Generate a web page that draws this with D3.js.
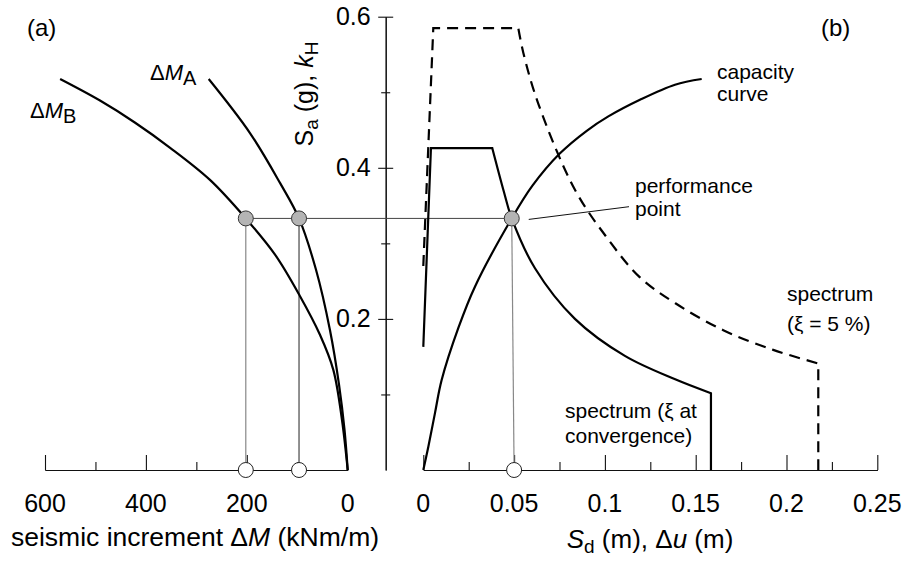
<!DOCTYPE html>
<html>
<head>
<meta charset="utf-8">
<script src="https://cdn.jsdelivr.net/npm/d3@7"></script>
<style>
  body { margin: 0; background: #fff; }
  svg { display: block; font-family: "Liberation Sans", Arial, sans-serif; }
</style>
</head>
<body>
<div id="chart"></div>
<script>
// values

// tick values
const sdTicks = [0, 0.05, 0.1, 0.15, 0.2, 0.25]
const sdMinorTicks = [0.025, 0.075, 0.125, 0.175, 0.225]
const dmTicks = [600, 400, 200, 0]
const dmMajorTickMarks = [600, 400, 200]
const dmMinorTickMarks = [500, 300, 100]
const saTicks = [0.2, 0.4, 0.6]
const saMinorTicks = [0.1, 0.3, 0.5]

// (b) [Sd (m), Sa (g)]
const capacityCurve = [
  [0, 0], [0.0028, 0.031], [0.0064, 0.075], [0.0101, 0.119], [0.0193, 0.188],
  [0.0285, 0.243], [0.0487, 0.333], [0.06, 0.376], [0.075, 0.4185],
  [0.09, 0.449], [0.1019, 0.468], [0.1193, 0.49], [0.1386, 0.51], [0.1533, 0.5175],
]
const spectrumConvRise = [[0, 0.163], [0.0042, 0.426], [0.038, 0.426]]
const spectrumConvFall = [
  [0.038, 0.426], [0.0443, 0.369], [0.0487, 0.333], [0.0615, 0.267],
  [0.0835, 0.2], [0.111, 0.151], [0.1387, 0.12], [0.1584, 0.1016],
]
const spectrumConvEnd = 0.1584
const spectrum5Rise = [[0, 0.27], [0.0055, 0.585], [0.0523, 0.585]]
const spectrum5Fall = [
  [0.0523, 0.585], [0.0551, 0.552], [0.0633, 0.485], [0.0835, 0.371],
  [0.1019, 0.305], [0.1193, 0.255], [0.1386, 0.221], [0.1652, 0.185],
  [0.1927, 0.159], [0.2175, 0.141],
]
const spectrum5End = 0.2175

// (a) [ΔM (kNm/m), kH]
const dmBCurve = [
  [570, 0.5175], [491, 0.489], [422, 0.46], [352, 0.4265], [273, 0.384],
  [202, 0.333], [144, 0.285], [94.5, 0.23], [55, 0.179], [28.5, 0.1325],
  [11.3, 0.066], [0, 0],
]
const dmACurve = [
  [275.5, 0.5175], [193.7, 0.446], [134.2, 0.38], [96.5, 0.333],
  [62.8, 0.265], [35.1, 0.185], [17.2, 0.113], [6.3, 0.053], [0, 0],
]

const kH = 0.333
const dmAPoint = 96.5
const dmBPoint = 202
const perfPoint = [0.0487, 0.333]
const sdPoint = 0.05

// layout
const width = 905
const height = 565
const baseY = 470
const topY = 16.7

const svg = d3.select("#chart").append("svg")
    .attr("width", width)
    .attr("height", height)

const yScale = d3.scaleLinear().domain([0, 0.6]).range([baseY, topY])
const xRight = d3.scaleLinear().domain([0, 0.25]).range([423.3, 877.3])
const xLeft = d3.scaleLinear().domain([0, 600]).range([347.7, 45])
const yAxisX = 385.7

// axes
const drawXAxis = (scale, major, minor, labels) => {
  const g = svg.append("g").attr("transform", `translate(0,${baseY})`)
  g.append("g")
    .call(d3.axisTop(scale).tickValues(major).tickSizeInner(15).tickSizeOuter(0).tickFormat(""))
  g.append("g")
    .call(d3.axisTop(scale).tickValues(minor).tickSizeInner(8).tickSizeOuter(0).tickFormat(""))
  g.selectAll("path, line").attr("stroke", "#111").attr("stroke-width", 1.1)
  g.selectAll(".lab")
    .data(labels)
    .join("text")
      .attr("class", "lab")
      .attr("x", d => scale(d))
      .attr("y", 42)
      .attr("text-anchor", "middle")
      .style("font-size", "25px")
      .text(d => d)
}
drawXAxis(xRight, sdTicks, sdMinorTicks, sdTicks)
drawXAxis(xLeft, dmMajorTickMarks, dmMinorTickMarks, dmTicks)

const yAxis = svg.append("g")
    .attr("transform", `translate(${yAxisX},0)`)
yAxis.append("g")
  .call(d3.axisLeft(yScale).tickValues(saTicks).tickSizeOuter(0).tickFormat(d3.format(".1f")))
yAxis.append("g")
  .call(d3.axisLeft(yScale).tickValues(saMinorTicks).tickSizeOuter(0).tickFormat(""))
yAxis.selectAll("path").attr("stroke", "#111").attr("stroke-width", 1.1)
yAxis.selectAll("line").attr("stroke", "#111").attr("stroke-width", 1.1)
yAxis.selectAll(".tick line").attr("x1", d => saTicks.includes(d) ? 7.5 : 4.5)
    .attr("x2", d => saTicks.includes(d) ? -7.5 : -4.5)
yAxis.selectAll(".tick text")
    .attr("x", -15)
    .attr("font-family", null)
    .style("font-size", "25px")
    .attr("fill", "#000")

// guide lines
const kY = yScale(kH)
svg.append("line")
    .attr("x1", xLeft(dmBPoint)).attr("x2", xRight(perfPoint[0]))
    .attr("y1", kY).attr("y2", kY)
    .attr("stroke", "#444").attr("stroke-width", 1)
svg.append("line")
    .attr("x1", xLeft(dmBPoint)).attr("x2", xLeft(dmBPoint))
    .attr("y1", kY).attr("y2", baseY)
    .attr("stroke", "#888").attr("stroke-width", 1.2)
svg.append("line")
    .attr("x1", xLeft(dmAPoint)).attr("x2", xLeft(dmAPoint))
    .attr("y1", kY).attr("y2", baseY)
    .attr("stroke", "#222").attr("stroke-width", 1)
svg.append("line")
    .attr("x1", xRight(perfPoint[0])).attr("x2", xRight(sdPoint))
    .attr("y1", yScale(perfPoint[1])).attr("y2", baseY)
    .attr("stroke", "#888").attr("stroke-width", 1.2)
// leader to "performance point"
svg.append("line")
    .attr("x1", xRight(perfPoint[0]) + 17).attr("y1", yScale(perfPoint[1]) + 1)
    .attr("x2", 629).attr("y2", 206.7)
    .attr("stroke", "#111").attr("stroke-width", 1)

// curves
const lineR = d3.line().x(d => xRight(d[0])).y(d => yScale(d[1]))
const smoothR = d3.line().x(d => xRight(d[0])).y(d => yScale(d[1]))
    .curve(d3.curveCatmullRom.alpha(0.5))
const smoothL = d3.line().x(d => xLeft(d[0])).y(d => yScale(d[1]))
    .curve(d3.curveCatmullRom.alpha(0.5))

const spectrumPath = (rise, fall, end) =>
  lineR(rise) + smoothR(fall).replace(/^M/, "L") + `L${xRight(end)},${yScale(0)}`

svg.append("path")
    .attr("d", spectrumPath(spectrum5Rise, spectrum5Fall, spectrum5End))
    .attr("fill", "none")
    .attr("stroke", "#000")
    .attr("stroke-width", 2.2)
    .attr("stroke-dasharray", "11 7")

svg.append("path")
    .attr("d", spectrumPath(spectrumConvRise, spectrumConvFall, spectrumConvEnd))
    .attr("fill", "none")
    .attr("stroke", "#000")
    .attr("stroke-width", 2.2)

svg.append("path")
    .attr("d", smoothR(capacityCurve))
    .attr("fill", "none")
    .attr("stroke", "#000")
    .attr("stroke-width", 2.2)

svg.append("path")
    .attr("d", smoothL(dmBCurve))
    .attr("fill", "none")
    .attr("stroke", "#000")
    .attr("stroke-width", 2.2)

svg.append("path")
    .attr("d", smoothL(dmACurve))
    .attr("fill", "none")
    .attr("stroke", "#000")
    .attr("stroke-width", 2.2)

// points
const filled = [[xLeft(dmBPoint), kY], [xLeft(dmAPoint), kY], [xRight(perfPoint[0]), yScale(perfPoint[1])]]
const open = [[xLeft(dmBPoint), baseY], [xLeft(dmAPoint), baseY], [xRight(sdPoint), baseY]]

svg.selectAll(".filled")
  .data(filled)
  .join("circle")
    .attr("cx", d => d[0]).attr("cy", d => d[1]).attr("r", 7.5)
    .attr("fill", "#b4b4b4").attr("stroke", "#333").attr("stroke-width", 1)
svg.selectAll(".open")
  .data(open)
  .join("circle")
    .attr("cx", d => d[0]).attr("cy", d => d[1]).attr("r", 7.5)
    .attr("fill", "#fff").attr("stroke", "#222").attr("stroke-width", 1)

// texts
const label = (x, y, size) => svg.append("text")
    .attr("x", x).attr("y", y)
    .style("font-size", size + "px")
    .attr("fill", "#000")

label(27, 36, 24).text("(a)")
label(821, 36, 24).text("(b)")

const dmA = label(150, 80, 22)
dmA.append("tspan").text("Δ")
dmA.append("tspan").attr("font-style", "italic").text("M")
dmA.append("tspan").attr("dy", 5).style("font-size", "20px").text("A")

const dmB = label(30, 118, 22)
dmB.append("tspan").text("Δ")
dmB.append("tspan").attr("font-style", "italic").text("M")
dmB.append("tspan").attr("dy", 5).style("font-size", "20px").text("B")

label(717, 79, 21).text("capacity")
label(717, 101, 21).text("curve")
label(635, 193, 21).text("performance")
label(635, 216, 21).text("point")
label(787, 301, 21).text("spectrum")
label(787, 331, 21).text("(ξ = 5 %)")
label(565, 418, 21).text("spectrum (ξ at")
label(565, 443, 21).text("convergence)")

// axis titles
const yTitle = svg.append("text")
    .attr("transform", "translate(313,94) rotate(-90)")
    .attr("text-anchor", "middle")
    .style("font-size", "25px")
yTitle.append("tspan").text("S")
yTitle.append("tspan").attr("dy", 5).style("font-size", "19px").text("a")
yTitle.append("tspan").attr("dy", -5).text(" (g), ")
yTitle.append("tspan").attr("font-style", "italic").text("k")
yTitle.append("tspan").attr("dy", 5).style("font-size", "19px").text("H")

const leftTitle = svg.append("text")
    .attr("x", 195).attr("y", 546)
    .attr("text-anchor", "middle")
    .style("font-size", "26.5px")
leftTitle.append("tspan").text("seismic increment Δ")
leftTitle.append("tspan").attr("font-style", "italic").text("M")
leftTitle.append("tspan").text(" (kNm/m)")

const rightTitle = svg.append("text")
    .attr("x", 650).attr("y", 548)
    .attr("text-anchor", "middle")
    .style("font-size", "26px")
rightTitle.append("tspan").attr("font-style", "italic").text("S")
rightTitle.append("tspan").attr("dy", 5).style("font-size", "19px").text("d")
rightTitle.append("tspan").attr("dy", -5).text(" (m), Δ")
rightTitle.append("tspan").attr("font-style", "italic").text("u")
rightTitle.append("tspan").text(" (m)")
</script>
</body>
</html>
